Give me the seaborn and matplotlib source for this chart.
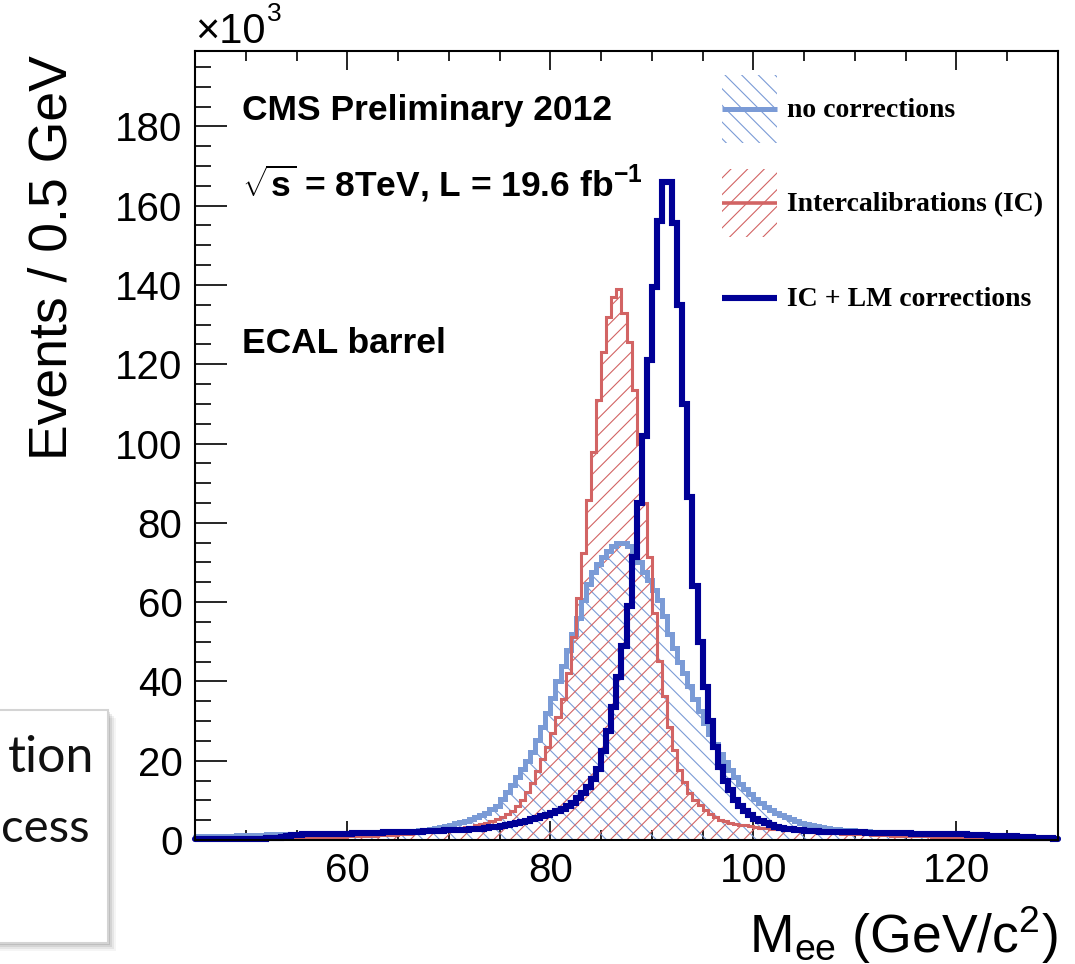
import numpy as np
import pandas as pd
import matplotlib
matplotlib.use("Agg")
import matplotlib.pyplot as plt
import seaborn as sns
from matplotlib.ticker import MultipleLocator, FixedLocator
from matplotlib.patches import Patch, Rectangle
from matplotlib.lines import Line2D
from matplotlib.legend_handler import HandlerBase
from matplotlib.font_manager import FontProperties

# Di-electron invariant mass, 0.5 GeV bins from 45 to 130 GeV (events x 10^3)
bin_edges = [float(b) for b in np.arange(45.0, 130.0 + 0.25, 0.5)]

no_corrections = [
    0.9, 0.9, 1.0, 1.0, 1.0, 1.1, 1.1, 1.1, 1.2, 1.2,          # 45-50
    1.2, 1.3, 1.3, 1.3, 1.4, 1.4, 1.4, 1.5, 1.5, 1.5,          # 50-55
    1.5, 1.5, 1.5, 1.5, 1.6, 1.6, 1.6, 1.6, 1.6, 1.6,          # 55-60
    1.6, 1.6, 1.6, 1.7, 1.7, 1.7, 1.7, 1.7, 1.7, 1.7,          # 60-65
    1.8, 1.9, 2.0, 2.2, 2.4, 2.6, 2.8, 3.0, 3.3, 3.6,          # 65-70
    3.9, 4.2, 4.5, 4.9, 5.3, 5.8, 6.3, 6.9, 7.7, 8.6,          # 70-75
    10.3, 12.0, 13.8, 15.8, 17.8, 19.8, 22.2, 25.3, 28.6, 32.0,  # 75-80
    35.8, 40.0, 44.0, 48.0, 52.0, 56.0, 60.5, 64.5, 67.5, 69.5,  # 80-85
    71.3, 73.0, 74.2, 75.0, 75.0, 74.2, 72.5, 70.0, 67.5, 65.5,  # 85-90
    63.0, 60.5, 56.5, 52.0, 48.5, 45.0, 42.0, 38.8, 35.5, 32.5,  # 90-95
    29.5, 26.8, 24.2, 21.8, 19.6, 17.6, 15.8, 14.2, 12.8, 11.5,  # 95-100
    10.3, 9.3, 8.4, 7.6, 6.9, 6.2, 5.7, 5.2, 4.8, 4.4,          # 100-105
    4.1, 3.8, 3.5, 3.3, 3.1, 2.9, 2.8, 2.6, 2.5, 2.4,          # 105-110
    2.3, 2.2, 2.2, 2.1, 2.1, 2.0, 2.0, 1.9, 1.9, 1.9,          # 110-115
    1.8, 1.8, 1.8, 1.7, 1.7, 1.7, 1.6, 1.6, 1.6, 1.5,          # 115-120
    1.5, 1.5, 1.4, 1.4, 1.3, 1.3, 1.2, 1.2, 1.1, 1.1,          # 120-125
    1.0, 0.9, 0.9, 0.8, 0.7, 0.7, 0.6, 0.5, 0.5, 0.4,          # 125-130
]

intercalibrations = [
    0.2, 0.2, 0.2, 0.2, 0.2, 0.2, 0.2, 0.2, 0.2, 0.2,          # 45-50
    0.3, 0.3, 0.3, 0.3, 0.4, 0.4, 0.4, 0.4, 0.5, 0.5,          # 50-55
    0.5, 0.6, 0.6, 0.6, 0.7, 0.7, 0.7, 0.8, 0.8, 0.8,          # 55-60
    0.9, 0.9, 1.0, 1.0, 1.1, 1.1, 1.2, 1.2, 1.3, 1.3,          # 60-65
    1.4, 1.5, 1.6, 1.7, 1.8, 1.9, 2.0, 2.1, 2.3, 2.4,          # 65-70
    2.6, 2.8, 3.0, 3.2, 3.4, 3.7, 4.0, 4.4, 4.8, 5.2,          # 70-75
    5.8, 6.5, 7.4, 8.5, 10.0, 12.0, 14.5, 17.5, 20.5, 23.5,     # 75-80
    27.0, 31.0, 35.5, 42.0, 51.3, 61.0, 72.3, 85.8, 97.8, 111.0,  # 80-85
    123.0, 132.0, 137.0, 139.0, 133.0, 125.5, 113.5, 100.0, 85.0, 71.5,  # 85-90
    57.2, 45.2, 36.2, 28.6, 22.7, 17.7, 14.7, 11.8, 10.1, 8.9,  # 90-95
    7.5, 6.5, 5.8, 5.1, 4.7, 4.4, 4.1, 3.9, 3.7, 3.5,          # 95-100
    3.3, 3.1, 3.0, 2.9, 2.8, 2.7, 2.6, 2.5, 2.4, 2.3,          # 100-105
    2.2, 2.1, 2.0, 1.9, 1.8, 1.7, 1.7, 1.6, 1.5, 1.5,          # 105-110
    1.5, 1.4, 1.4, 1.3, 1.3, 1.2, 1.2, 1.1, 1.1, 1.0,          # 110-115
    1.0, 1.0, 0.9, 0.9, 0.9, 0.8, 0.8, 0.8, 0.7, 0.7,          # 115-120
    0.7, 0.6, 0.6, 0.6, 0.6, 0.5, 0.5, 0.5, 0.5, 0.4,          # 120-125
    0.4, 0.4, 0.4, 0.3, 0.3, 0.3, 0.3, 0.3, 0.2, 0.2,          # 125-130
]

ic_lm_corrections = [
    0.3, 0.3, 0.3, 0.3, 0.3, 0.3, 0.3, 0.3, 0.3, 0.3,          # 45-50
    0.3, 0.3, 0.3, 0.3, 0.4, 0.5, 0.6, 0.8, 1.0, 1.2,          # 50-55
    1.3, 1.4, 1.4, 1.5, 1.5, 1.5, 1.5, 1.6, 1.6, 1.6,          # 55-60
    1.6, 1.7, 1.7, 1.7, 1.8, 1.8, 1.8, 1.9, 1.9, 2.0,          # 60-65
    2.0, 2.0, 2.1, 2.1, 2.1, 2.2, 2.2, 2.3, 2.3, 2.4,          # 65-70
    2.4, 2.5, 2.5, 2.6, 2.7, 2.8, 2.9, 3.0, 3.2, 3.4,          # 70-75
    3.6, 3.8, 4.0, 4.3, 4.6, 4.9, 5.2, 5.6, 6.0, 6.4,          # 75-80
    6.8, 7.3, 7.9, 8.6, 9.4, 10.5, 11.8, 13.4, 15.4, 18.0,     # 80-85
    22.5, 27.5, 33.5, 41.0, 49.0, 59.0, 71.5, 85.0, 102.0, 121.0,  # 85-90
    139.5, 156.0, 166.0, 166.0, 155.5, 135.0, 110.0, 86.5, 64.0, 50.0,  # 90-95
    38.5, 30.0, 23.5, 18.5, 15.0, 12.5, 10.2, 8.5, 7.2, 6.2,   # 95-100
    5.3, 4.7, 4.2, 3.7, 3.4, 3.1, 2.9, 2.7, 2.5, 2.4,          # 100-105
    2.3, 2.2, 2.2, 2.1, 2.1, 2.0, 2.0, 2.0, 1.9, 1.9,          # 105-110
    1.9, 1.9, 1.8, 1.8, 1.8, 1.8, 1.7, 1.7, 1.7, 1.7,          # 110-115
    1.7, 1.6, 1.6, 1.6, 1.6, 1.5, 1.5, 1.5, 1.5, 1.4,          # 115-120
    1.4, 1.4, 1.3, 1.3, 1.2, 1.2, 1.1, 1.1, 1.0, 1.0,          # 120-125
    0.9, 0.9, 0.8, 0.7, 0.7, 0.6, 0.5, 0.5, 0.4, 0.3,          # 125-130
]

series_labels = ["no corrections", "Intercalibrations (IC)", "IC + LM corrections"]
x_ticks = [60, 80, 100, 120]
y_ticks = [0, 20, 40, 60, 80, 100, 120, 140, 160, 180]

LIGHT = "#7b9bd6"
RED = "#d26464"
DARK = "#000096"

bin_centers = [0.5 * (a + b) for a, b in zip(bin_edges[:-1], bin_edges[1:])]
df = pd.DataFrame({
    "mass": bin_centers,
    "no_corr": no_corrections,
    "ic": intercalibrations,
    "ic_lm": ic_lm_corrections,
})

sns.set_theme(style="ticks")
plt.rcParams.update({
    "font.family": ["Liberation Sans", "DejaVu Sans"],
    "mathtext.fontset": "custom",
    "mathtext.rm": "Liberation Sans",
    "mathtext.it": "Liberation Sans:italic",
    "mathtext.bf": "Liberation Sans:bold",
    "hatch.linewidth": 0.8,
    "axes.linewidth": 1.5,
    "axes.edgecolor": "black",
    "text.color": "black",
    "axes.labelcolor": "black",
    "xtick.color": "black",
    "ytick.color": "black",
    "xtick.labelcolor": "black",
    "ytick.labelcolor": "black",
})


class HatchLineHandler(HandlerBase):
    """Legend key: optional hatched box with a line through its middle."""

    def create_artists(self, legend, orig_handle, xdescent, ydescent,
                       width, height, fontsize, trans):
        if isinstance(orig_handle, tuple):
            patch, line = orig_handle
        else:
            patch, line = None, orig_handle
        artists = []
        x0, y0 = -xdescent, -ydescent
        if patch is not None:
            rect = Rectangle((x0, y0), width, height, facecolor="none",
                             edgecolor=patch.get_edgecolor(),
                             hatch=patch.get_hatch(), linewidth=0,
                             transform=trans)
            artists.append(rect)
        yc = y0 + height / 2
        ln = Line2D([x0, x0 + width], [yc, yc], color=line.get_color(),
                    lw=line.get_linewidth(), solid_capstyle="butt",
                    transform=trans)
        artists.append(ln)
        return artists


W, H = 1075, 964
fig = plt.figure(figsize=(W / 100, H / 100), dpi=100)
ax = fig.add_axes([195 / W, 1 - 840 / H, (1058 - 195) / W, (840 - 51) / H])

common = dict(data=df, x="mass", bins=bin_edges, element="step", ax=ax)

# no corrections: hatched fill + outline
sns.histplot(weights="no_corr", fill=True, color=LIGHT, facecolor="none",
             edgecolor=LIGHT, linewidth=0, hatch="\\\\", **common)
sns.histplot(weights="no_corr", fill=False, color=LIGHT, linewidth=3.6, **common)
# intercalibrations: hatched fill + outline
sns.histplot(weights="ic", fill=True, color=RED, facecolor="none",
             edgecolor=RED, linewidth=0, hatch="//", **common)
sns.histplot(weights="ic", fill=False, color=RED, linewidth=2.2, **common)
# IC + LM corrections: thick outline only
sns.histplot(weights="ic_lm", fill=False, color=DARK, linewidth=4.4, **common)

for ln in ax.lines:
    ln.set_clip_on(False)
    ln.set_solid_joinstyle("miter")

ax.set_xlim(45, 130)
ax.set_ylim(0, 199)
ax.xaxis.set_major_locator(FixedLocator(x_ticks))
ax.xaxis.set_minor_locator(MultipleLocator(5))
ax.yaxis.set_major_locator(FixedLocator(y_ticks))
ax.yaxis.set_minor_locator(MultipleLocator(5))
ax.set_xticklabels([str(t) for t in x_ticks])
ax.set_yticklabels([str(t) for t in y_ticks])

ax.tick_params(axis="x", which="both", direction="in", top=True, bottom=True,
               labelsize=29, pad=9, width=1.2, color="black", labelcolor="black")
ax.tick_params(axis="x", which="major", length=14)
ax.tick_params(axis="x", which="minor", length=7)
ax.tick_params(axis="y", which="both", direction="in", left=True, right=False,
               labelsize=29, pad=9, width=1.2, color="black", labelcolor="black")
ax.tick_params(axis="y", which="major", length=23)
ax.tick_params(axis="y", which="minor", length=11.5)
for s in ax.spines.values():
    s.set_visible(True)
    s.set_linewidth(1.5)
    s.set_color("black")

ax.set_ylabel("Events / 0.5 GeV", fontsize=38.5, loc="top", color="black")
ax.yaxis.set_label_coords(-0.136, 0.995)
ax.set_xlabel(r"M$_{\rm ee}$ (GeV/c$^{2}$)", fontsize=38.5, loc="right",
              color="black")
ax.xaxis.set_label_coords(1.0, -0.082)

# axis multiplier
fig.text(195 / W, 1 - 43 / H, "\u00d710", fontsize=30, ha="left",
         va="baseline", color="black")
fig.text(267 / W, 1 - 21 / H, "3", fontsize=19, ha="left",
         va="baseline", color="black")

# annotations
bold = dict(fontsize=25.5, fontweight="bold", ha="left", va="baseline",
            transform=fig.transFigure, color="black")
fig.text(242 / W, 1 - 120 / H, "CMS Preliminary 2012", **bold)
fig.text(242 / W, 1 - 197 / H,
         r"$\sqrt{\mathbf{s}}$ = 8TeV, L = 19.6 fb$^{\mathbf{-1}}$", **bold)
fig.text(242 / W, 1 - 353 / H, "ECAL barrel", **bold)

# legend
handles = [
    (Patch(facecolor="none", edgecolor=LIGHT, hatch="\\\\", linewidth=0),
     Line2D([], [], color=LIGHT, lw=3.6)),
    (Patch(facecolor="none", edgecolor=RED, hatch="//", linewidth=0),
     Line2D([], [], color=RED, lw=2.6)),
    Line2D([], [], color=DARK, lw=4.4),
]
handler = HatchLineHandler()
leg = ax.legend(handles=handles, labels=series_labels,
                handler_map={tuple: handler, Line2D: handler},
                prop=FontProperties(family="Liberation Serif", weight="bold",
                                    size=20),
                frameon=False, loc="upper left",
                bbox_to_anchor=(722 / W, 1 - 75 / H),
                bbox_transform=fig.transFigure,
                borderpad=0, borderaxespad=0, handlelength=1.98,
                handleheight=3.39, handletextpad=0.36, labelspacing=0.95)
for t in leg.get_texts():
    t.set_color("black")

# side note box
for k, a in enumerate([0.10, 0.08, 0.06, 0.04]):
    off = 2 + 2 * k
    fig.add_artist(Rectangle(((-20 + off) / W, 1 - (943 + off) / H),
                             128 / W, 233 / H, transform=fig.transFigure,
                             facecolor="black", alpha=a, edgecolor="none",
                             zorder=0))
fig.add_artist(Rectangle((-20 / W, 1 - 943 / H), 128 / W, 233 / H,
                         transform=fig.transFigure, facecolor="white",
                         edgecolor="#d4d4d4", linewidth=1.5, zorder=1))
fig.text(94 / W, 1 - 772 / H, "tion", fontsize=36, family="Lato",
         ha="right", va="baseline", color="#111111", zorder=2)
fig.text(90 / W, 1 - 842 / H, "cess", fontsize=34, family="Lato",
         ha="right", va="baseline", color="#111111", zorder=2)

fig.savefig("out.png", dpi=100)
